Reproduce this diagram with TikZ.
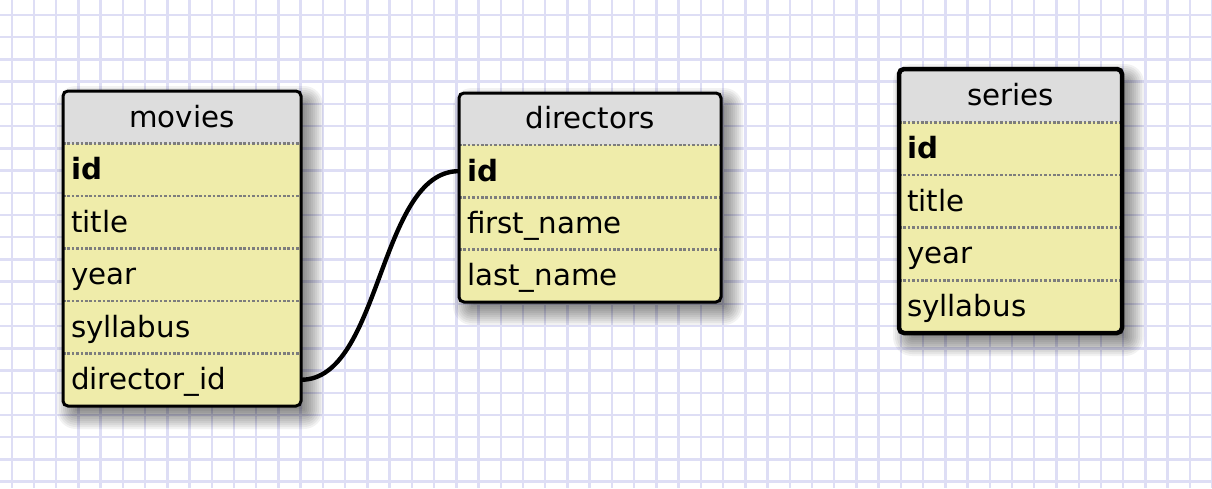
\documentclass[tikz,border=0pt]{standalone}
\usepackage{fontspec}
\setmainfont{DejaVu Sans}
\definecolor{gridc}{RGB}{222,222,245}
\definecolor{headc}{RGB}{221,221,221}
\definecolor{bodyc}{RGB}{239,236,170}
\definecolor{sepc}{RGB}{125,125,125}
\pgfdeclarelayer{gridlayer}
\pgfdeclarelayer{connlayer}
\pgfsetlayers{gridlayer,connlayer,main}
\tikzset{
  txt/.style={font=\fontsize{29.3}{35}\selectfont, inner ysep=0pt, text height=26pt, text depth=6.1pt},
  cell/.style={txt, text width=#1, align=left, inner xsep=8pt},
  hcell/.style={txt, text width=#1, align=center, inner xsep=8pt},
  sepline/.style={sepc, line width=2.6pt, dash pattern=on 2.6pt off 1.8pt},
  gridline/.style={gridc, line width=2.4pt},
  relation/.style={line width=4.4pt, black},
}
\newcommand\tablebase[8]{%
  \foreach \e in {-8,-6,...,14}{%
    \pgfmathsetmacro\rr{max(1,5+\e)}%
    \fill[black,opacity=0.05,rounded corners=\rr pt] ({#1+8-\e},{#2+9-\e}) rectangle ({#3+8+\e},{#5+9+\e});
  }%
  \begin{scope}
    \clip[rounded corners=5pt] (#1,#2) rectangle (#3,#5);
    \fill[bodyc] (#1,#2) rectangle (#3,#5);
    \fill[headc] (#1,#2) rectangle (#3,#4);
  \end{scope}
  \foreach \k in {1,...,#8}{%
    \pgfmathsetmacro\yy{#4+(\k-1)*#7}%
    \draw[sepline] (#1,\yy) -- (#3,\yy);
  }%
  \draw[line width=#6pt, rounded corners=5pt] (#1,#2) rectangle (#3,#5);
}
\begin{document}
\begin{tikzpicture}[x=1pt,y=-1pt]
\useasboundingbox (0,0) rectangle (1212,488);
\begin{pgfonlayer}{gridlayer}
  \fill[white] (0,0) rectangle (1212,488);
  \foreach \k in {0,...,54}{\draw[gridline] ({11.7+22.23*\k},0) -- ({11.7+22.23*\k},488);}
  \foreach \k in {0,...,21}{\draw[gridline] (0,{15+22.22*\k}) -- (1212,{15+22.22*\k});}
\end{pgfonlayer}

% movies
\tablebase{63}{91}{301}{143.5}{406}{3}{52.5}{5}
\node[hcell=222pt] (mh) at (182,117.25) {movies};
\node[cell=222pt] (m1) at (182,169.75) {\textbf{id}};
\node[cell=222pt] (m2) at (182,222.25) {title};
\node[cell=222pt] (m3) at (182,274.75) {year};
\node[cell=222pt] (m4) at (182,327.25) {syllabus};
\node[cell=222pt] (m5) at (182,379.75) {director\_id};

% directors
\tablebase{459}{93}{721}{145}{302}{3}{52.333}{3}
\node[hcell=246pt] (dh) at (590,119) {directors};
\node[cell=246pt] (d1) at (590,171.17) {\textbf{id}};
\node[cell=246pt] (d2) at (590,223.5) {first\_name};
\node[cell=246pt] (d3) at (590,275.83) {last\_name};

% series
\tablebase{899}{69}{1122}{122.3}{333}{4.5}{52.675}{4}
\node[hcell=207pt] (sh) at (1010.5,95.65) {series};
\node[cell=207pt] (s1) at (1010.5,148.64) {\textbf{id}};
\node[cell=207pt] (s2) at (1010.5,201.31) {title};
\node[cell=207pt] (s3) at (1010.5,253.99) {year};
\node[cell=207pt] (s4) at (1010.5,306.66) {syllabus};

\begin{pgfonlayer}{connlayer}
  \draw[relation] (m5.east) .. controls +(80,0) and +(-80,0) .. (d1.west);
\end{pgfonlayer}
\end{tikzpicture}
\end{document}
